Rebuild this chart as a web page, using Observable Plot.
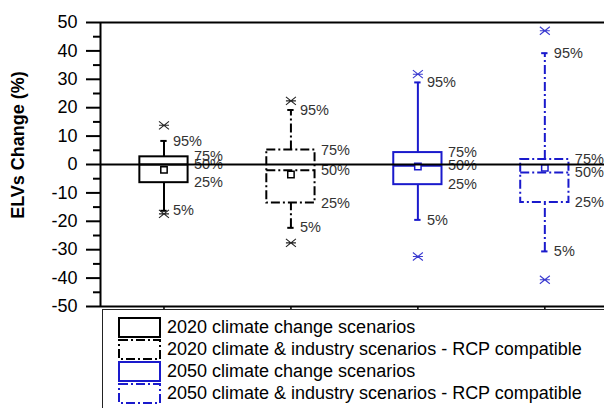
<!DOCTYPE html>
<html>
<head>
<meta charset="utf-8">
<script src="https://cdn.jsdelivr.net/npm/d3@7"></script>
<script src="https://cdn.jsdelivr.net/npm/@observablehq/plot@0.6"></script>
<style>
  html, body { margin: 0; padding: 0; background: #fff; }
  #wrap { position: relative; width: 604px; height: 408px; overflow: hidden; font-family: "Liberation Sans", Arial, sans-serif; }
  #legend { position: absolute; left: 102px; top: 309px; width: 540px; height: 120px; border: 1px solid #222; box-sizing: border-box; }
  .row { position: absolute; left: 15px; height: 20px; display: flex; align-items: center; }
  .row span { margin-left: 6px; font-size: 18px; color: #000; white-space: nowrap; }
  #ylabel { position: absolute; left: 18px; top: 145px; transform: translate(-50%, -50%) rotate(-90deg); font-size: 18px; font-weight: bold; white-space: nowrap; color: #000; }
</style>
</head>
<body>
<div id="wrap"><div id="legend"></div><div id="ylabel"></div></div>
<script>
// ---- data ----
const categories = [
  "2020 climate change scenarios",
  "2020 climate & industry scenarios - RCP compatible",
  "2050 climate change scenarios",
  "2050 climate & industry scenarios - RCP compatible"
];
const yLabel = "ELVs Change (%)";
const positions = [1, 2, 3, 4];
const p5     = [-16.3, -22.3, -19.5, -30.6];
const q25    = [-6.4, -13.6, -7.1, -13.4];
const median = [0.0, -2.0, -0.4, -2.8];
const mean   = [-1.9, -3.5, -0.7, -1.2];
const q75    = [2.7, 5.1, 4.2, 1.8];
const p95    = [8.3, 19.2, 28.9, 39.2];
const minV   = [-17.4, -27.6, -32.4, -40.6];
const maxV   = [13.8, 22.4, 31.8, 47.1];
const yTicks = [-50, -40, -30, -20, -10, 0, 10, 20, 30, 40, 50];
const yMinorTicks = [-45, -35, -25, -15, -5, 5, 15, 25, 35, 45];
const pctLabels = ["95%", "75%", "50%", "25%", "5%"];

// ---- styles ----
const colors = ["#000000", "#000000", "#1a1acc", "#1a1acc"];
const crossColors = ["#222222", "#222222", "#3a3ad0", "#3a3ad0"];
const dashes = [null, "9,3,2,3", null, "9,3,2,3"];
const HW = 0.19;      // box half width (x units)
const CAP = 0.025;    // whisker cap half width

const boxes = positions.map((pos, i) => ({
  pos, cat: categories[i], p5: p5[i], q25: q25[i], median: median[i], mean: mean[i],
  q75: q75[i], p95: p95[i], min: minV[i], max: maxV[i]
}));

const crossSymbol = {
  draw(ctx, size) {
    const r = Math.sqrt(size / Math.PI);
    const v = r * 0.8;
    ctx.moveTo(-r, -v); ctx.lineTo(r, v);
    ctx.moveTo(-r, v); ctx.lineTo(r, -v);
    ctx.moveTo(-r, 0); ctx.lineTo(r, 0);
  }
};

const marks = [];
marks.push(Plot.ruleY([50], {strokeWidth: 2}));
marks.push(Plot.ruleY([-50], {strokeWidth: 2}));
marks.push(Plot.ruleX([0.5], {strokeWidth: 2}));
marks.push(Plot.axisY(yTicks, {anchor: "left", tickSize: 14, tickPadding: 9, strokeWidth: 2, fontSize: 18, fill: "#000", label: null, tickFormat: d => String(d)}));
marks.push(Plot.axisY(yMinorTicks, {anchor: "left", tickSize: 7, strokeWidth: 2, text: null, label: null}));
marks.push(Plot.axisX(positions, {anchor: "bottom", tickSize: 4, strokeWidth: 1.5, text: null, label: null}));

boxes.forEach((b, i) => {
  const d = [b];
  const st = {stroke: colors[i], strokeWidth: 2, strokeDasharray: dashes[i]};
  marks.push(Plot.ruleX(d, {x: "pos", y1: "q75", y2: "p95", ...st}));
  marks.push(Plot.ruleX(d, {x: "pos", y1: "p5", y2: "q25", ...st}));
  marks.push(Plot.ruleY(d, {y: "p95", x1: x => x.pos - CAP, x2: x => x.pos + CAP, stroke: colors[i], strokeWidth: 2}));
  marks.push(Plot.ruleY(d, {y: "p5", x1: x => x.pos - CAP, x2: x => x.pos + CAP, stroke: colors[i], strokeWidth: 2}));
  marks.push(Plot.rect(d, {x1: x => x.pos - HW, x2: x => x.pos + HW, y1: "q25", y2: "q75", fill: "none", ...st}));
  marks.push(Plot.ruleY(d, {y: "median", x1: x => x.pos - HW, x2: x => x.pos + HW, ...st}));
  marks.push(Plot.dot(d, {x: "pos", y: "mean", symbol: "square", r: 3.6, fill: "#fff", stroke: colors[i], strokeWidth: 1.5}));
  marks.push(Plot.dot([b.min, b.max], {x: () => b.pos, y: v => v, symbol: crossSymbol, r: 5, stroke: crossColors[i], strokeWidth: 1.1, fill: "none"}));
  const lbl = [
    {pos: b.pos, v: b.p95, t: pctLabels[0], dx: 9},
    {pos: b.pos, v: b.q75, t: pctLabels[1], dx: 30},
    {pos: b.pos, v: b.median, t: pctLabels[2], dx: 30},
    {pos: b.pos, v: b.q25, t: pctLabels[3], dx: 30},
    {pos: b.pos, v: b.p5, t: pctLabels[4], dx: 9}
  ];
  [9, 30].forEach(off => {
    marks.push(Plot.text(lbl.filter(l => l.dx === off), {x: "pos", y: "v", text: "t", dx: off, textAnchor: "start", fontSize: 14.5, fill: "#333"}));
  });
});
marks.push(Plot.ruleY([0], {strokeWidth: 2}));

const chart = Plot.plot({
  width: 604, height: 310,
  marginLeft: 100, marginRight: 0, marginTop: 22, marginBottom: 4,
  x: {domain: [0.5, 4.47], axis: null, label: null},
  y: {domain: [-50, 50], axis: null, label: null},
  style: {fontFamily: '"Liberation Sans", Arial, sans-serif', background: "#fff", overflow: "visible"},
  marks
});
document.getElementById("wrap").prepend(chart);
document.getElementById("ylabel").textContent = yLabel;

// ---- legend ----
const legend = document.getElementById("legend");
categories.forEach((c, i) => {
  const row = document.createElement("div");
  row.className = "row";
  row.style.top = (7 + i * 22) + "px";
  const dash = dashes[i] ? `stroke-dasharray="9,3,2,3"` : "";
  row.innerHTML = `<svg width="43" height="21"><rect x="1" y="1" width="41" height="19" fill="none" stroke="${colors[i]}" stroke-width="2" ${dash}></rect></svg><span>${c.replace("&", "&amp;")}</span>`;
  legend.appendChild(row);
});
</script>
</body>
</html>
